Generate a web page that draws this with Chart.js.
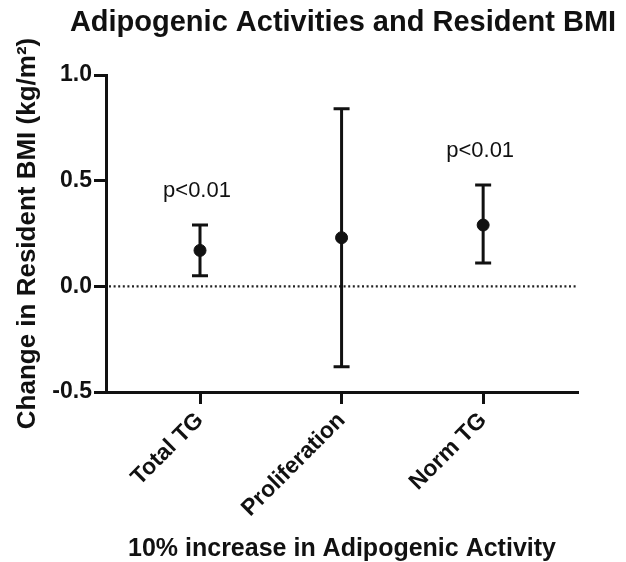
<!DOCTYPE html>
<html lang="en">
<head>
    <meta charset="UTF-8">
    <title>Adipogenic Activities and Resident BMI</title>
    <script src="https://cdn.jsdelivr.net/npm/chart.js"></script>
    <style>
        html, body { margin: 0; padding: 0; background: #fff; }
        .chart-container { position: relative; width: 626px; height: 562px; }
    </style>
</head>
<body>
    <div class="chart-container">
        <canvas id="bmiChart"></canvas>
    </div>

    <script>
        // Data
        const categories = ['Total TG', 'Proliferation', 'Norm TG'];
        const means = [0.17, 0.23, 0.29];
        const upper = [0.29, 0.84, 0.48];
        const lower = [0.05, -0.38, 0.11];
        const pLabels = ['p<0.01', '', 'p<0.01'];
        const yTicks = [-0.5, 0, 0.5, 1.0];

        const INK = '#111';
        const FONT = "'Liberation Sans', Arial, sans-serif";
        Chart.defaults.font.family = FONT;
        Chart.defaults.color = INK;

        // title, error bars, dotted zero line and p-value text
        const errorBars = {
            id: 'errorBars',
            beforeDatasetsDraw(chart) {
                const { ctx, chartArea, scales: { x, y } } = chart;
                ctx.save();

                // chart title (drawn here so it is not squeezed into the plot width)
                ctx.fillStyle = INK;
                ctx.font = 'bold 29px ' + FONT;
                ctx.textAlign = 'center';
                ctx.textBaseline = 'alphabetic';
                ctx.fillText('Adipogenic Activities and Resident BMI', 343, 31);

                // dotted reference line at 0
                const y0 = y.getPixelForValue(0);
                ctx.strokeStyle = '#222';
                ctx.lineWidth = 2.2;
                ctx.setLineDash([2, 2.6]);
                ctx.beginPath();
                ctx.moveTo(chartArea.left + 3, y0);
                ctx.lineTo(chartArea.right, y0);
                ctx.stroke();
                ctx.setLineDash([]);

                ctx.strokeStyle = INK;
                ctx.lineWidth = 3;
                const cap = 8;
                means.forEach((m, i) => {
                    const px = x.getPixelForValue(i);
                    const top = y.getPixelForValue(upper[i]);
                    const bot = y.getPixelForValue(lower[i]);
                    ctx.beginPath();
                    ctx.moveTo(px, top);
                    ctx.lineTo(px, bot);
                    ctx.moveTo(px - cap, top);
                    ctx.lineTo(px + cap, top);
                    ctx.moveTo(px - cap, bot);
                    ctx.lineTo(px + cap, bot);
                    ctx.stroke();

                    if (pLabels[i]) {
                        ctx.font = '22px ' + FONT;
                        ctx.fillText(pLabels[i], px - 3, top - 28);
                    }
                });
                ctx.restore();
            }
        };

        new Chart(document.getElementById('bmiChart'), {
            type: 'scatter',
            data: {
                datasets: [{
                    data: means.map((m, i) => ({ x: i, y: m })),
                    backgroundColor: INK,
                    borderColor: INK,
                    pointRadius: 6,
                    pointHoverRadius: 6
                }]
            },
            options: {
                responsive: true,
                maintainAspectRatio: false,
                animation: false,
                layout: { padding: { left: 0, right: 48, top: 75, bottom: 0 } },
                plugins: {
                    legend: { display: false },
                    tooltip: { enabled: false },
                    title: { display: false }
                },
                scales: {
                    x: {
                        type: 'linear',
                        min: -0.664,
                        max: 2.67,
                        afterBuildTicks: scale => {
                            scale.ticks = categories.map((c, i) => ({ value: i }));
                        },
                        afterFit: scale => { scale.height = 170; },
                        ticks: {
                            callback: v => categories[v],
                            minRotation: 45,
                            maxRotation: 45,
                            padding: 3,
                            color: INK,
                            font: { size: 23, weight: 'bold' }
                        },
                        grid: {
                            drawOnChartArea: false,
                            drawTicks: true,
                            tickLength: 12,
                            tickWidth: 3,
                            tickColor: INK
                        },
                        border: { display: true, color: INK, width: 3 },
                        title: {
                            display: true,
                            text: '10% increase in Adipogenic Activity',
                            color: INK,
                            font: { size: 25, weight: 'bold', lineHeight: 1.0 },
                            padding: { top: 0, bottom: 0 }
                        }
                    },
                    y: {
                        min: -0.5,
                        max: 1.0,
                        afterBuildTicks: scale => {
                            scale.ticks = yTicks.map(v => ({ value: v }));
                        },
                        afterFit: scale => { scale.width = 106; },
                        ticks: {
                            callback: v => v.toFixed(1),
                            padding: 2,
                            color: INK,
                            font: { size: 23, weight: 'bold' }
                        },
                        grid: {
                            drawOnChartArea: false,
                            drawTicks: true,
                            tickLength: 12,
                            tickWidth: 3,
                            tickColor: INK
                        },
                        border: { display: true, color: INK, width: 3 },
                        title: {
                            display: true,
                            text: 'Change in Resident BMI (kg/m²)',
                            color: INK,
                            font: { size: 26, weight: 'bold', lineHeight: 1.2 },
                            padding: { top: 12, bottom: 0 },
                            align: 'center'
                        }
                    }
                }
            },
            plugins: [errorBars]
        });
    </script>
</body>
</html>
